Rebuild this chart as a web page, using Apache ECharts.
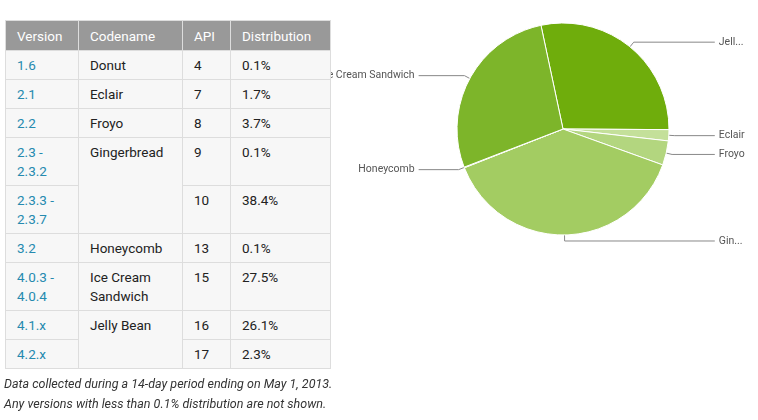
<!DOCTYPE html>
<html><head><meta charset="utf-8">
<script src="https://cdn.jsdelivr.net/npm/echarts@6/dist/echarts.min.js"></script>
<style>
body{margin:0;width:758px;height:420px;background:#fff;font-family:Roboto,sans-serif;position:relative;overflow:hidden}
#c{position:absolute;left:0;top:0;width:758px;height:420px}
table{position:absolute;left:5px;top:20px;border-collapse:collapse;font-size:13.5px;color:#222;background:#f7f7f7;z-index:2}
th{background:#999;color:#fff;font-weight:normal;text-align:left;padding:0 11px;height:29px;border:1px solid #ddd}
td{border:1px solid #ddd;padding:5px 11px 0 11px;vertical-align:top;line-height:19px;height:23px}
td.v{color:#258aaf}
.tall td{height:42px}
#note{position:absolute;left:4px;top:374px;font-style:italic;font-size:12.5px;color:#333;line-height:20px;z-index:2}
</style></head><body>
<div id="c"></div>
<table id="t"></table>
<div id="note">Data collected during a 14-day period ending on May 1, 2013.<br>Any versions with less than 0.1% distribution are not shown.</div>
<script>
const headers=['Version','Codename','API','Distribution'];
const versions=['1.6','2.1','2.2','2.3 -<br>2.3.2','2.3.3 -<br>2.3.7','3.2','4.0.3 -<br>4.0.4','4.1.x','4.2.x'];
const codenames=['Donut','Eclair','Froyo','Gingerbread',null,'Honeycomb','Ice Cream<br>Sandwich','Jelly Bean',null];
const codeSpan=[1,1,1,2,0,1,1,2,0];
const apis=[4,7,8,9,10,13,15,16,17];
const dist=['0.1%','1.7%','3.7%','0.1%','38.4%','0.1%','27.5%','26.1%','2.3%'];
const tall=[0,0,0,1,1,0,1,0,0];
const widths=[50,81,25,77];
let h='<tr>'+headers.map((x,i)=>'<th style="width:'+widths[i]+'px">'+x+'</th>').join('')+'</tr>';
versions.forEach((v,i)=>{
 h+='<tr'+(tall[i]?' class="tall"':'')+'><td class="v">'+v+'</td>';
 if(codeSpan[i]) h+='<td rowspan="'+codeSpan[i]+'">'+codenames[i]+'</td>';
 h+='<td>'+apis[i]+'</td><td>'+dist[i]+'</td></tr>';
});
document.getElementById('t').innerHTML=h;

const pieNames=['Jelly Bean','Eclair','Froyo','Gingerbread','Honeycomb','Ice Cream Sandwich'];
const pieValues=[28.4,1.7,3.7,38.5,0.1,27.5];
const pieColors=['#6fad0c','#c4e09a','#b3d67f','#a3cc62','#8fc048','#7db52a'];
const chart=echarts.init(document.getElementById('c'));
chart.setOption({
 animation:false,
 series:[{type:'pie',center:[563,129],radius:106,startAngle:102,clockwise:true,
  itemStyle:{borderColor:'#fff',borderWidth:1},
  label:{color:'#555',fontSize:10.5,fontFamily:'Roboto',alignTo:'labelLine',distanceToLabelLine:4},
  labelLine:{length:6,length2:40,lineStyle:{color:'#888',width:1}},
  data:pieNames.map((n,i)=>({name:n,value:pieValues[i],itemStyle:{color:pieColors[i]},
   label:{show:n!=='Honeycomb'||true}}))
 }]
});
</script></body></html>
